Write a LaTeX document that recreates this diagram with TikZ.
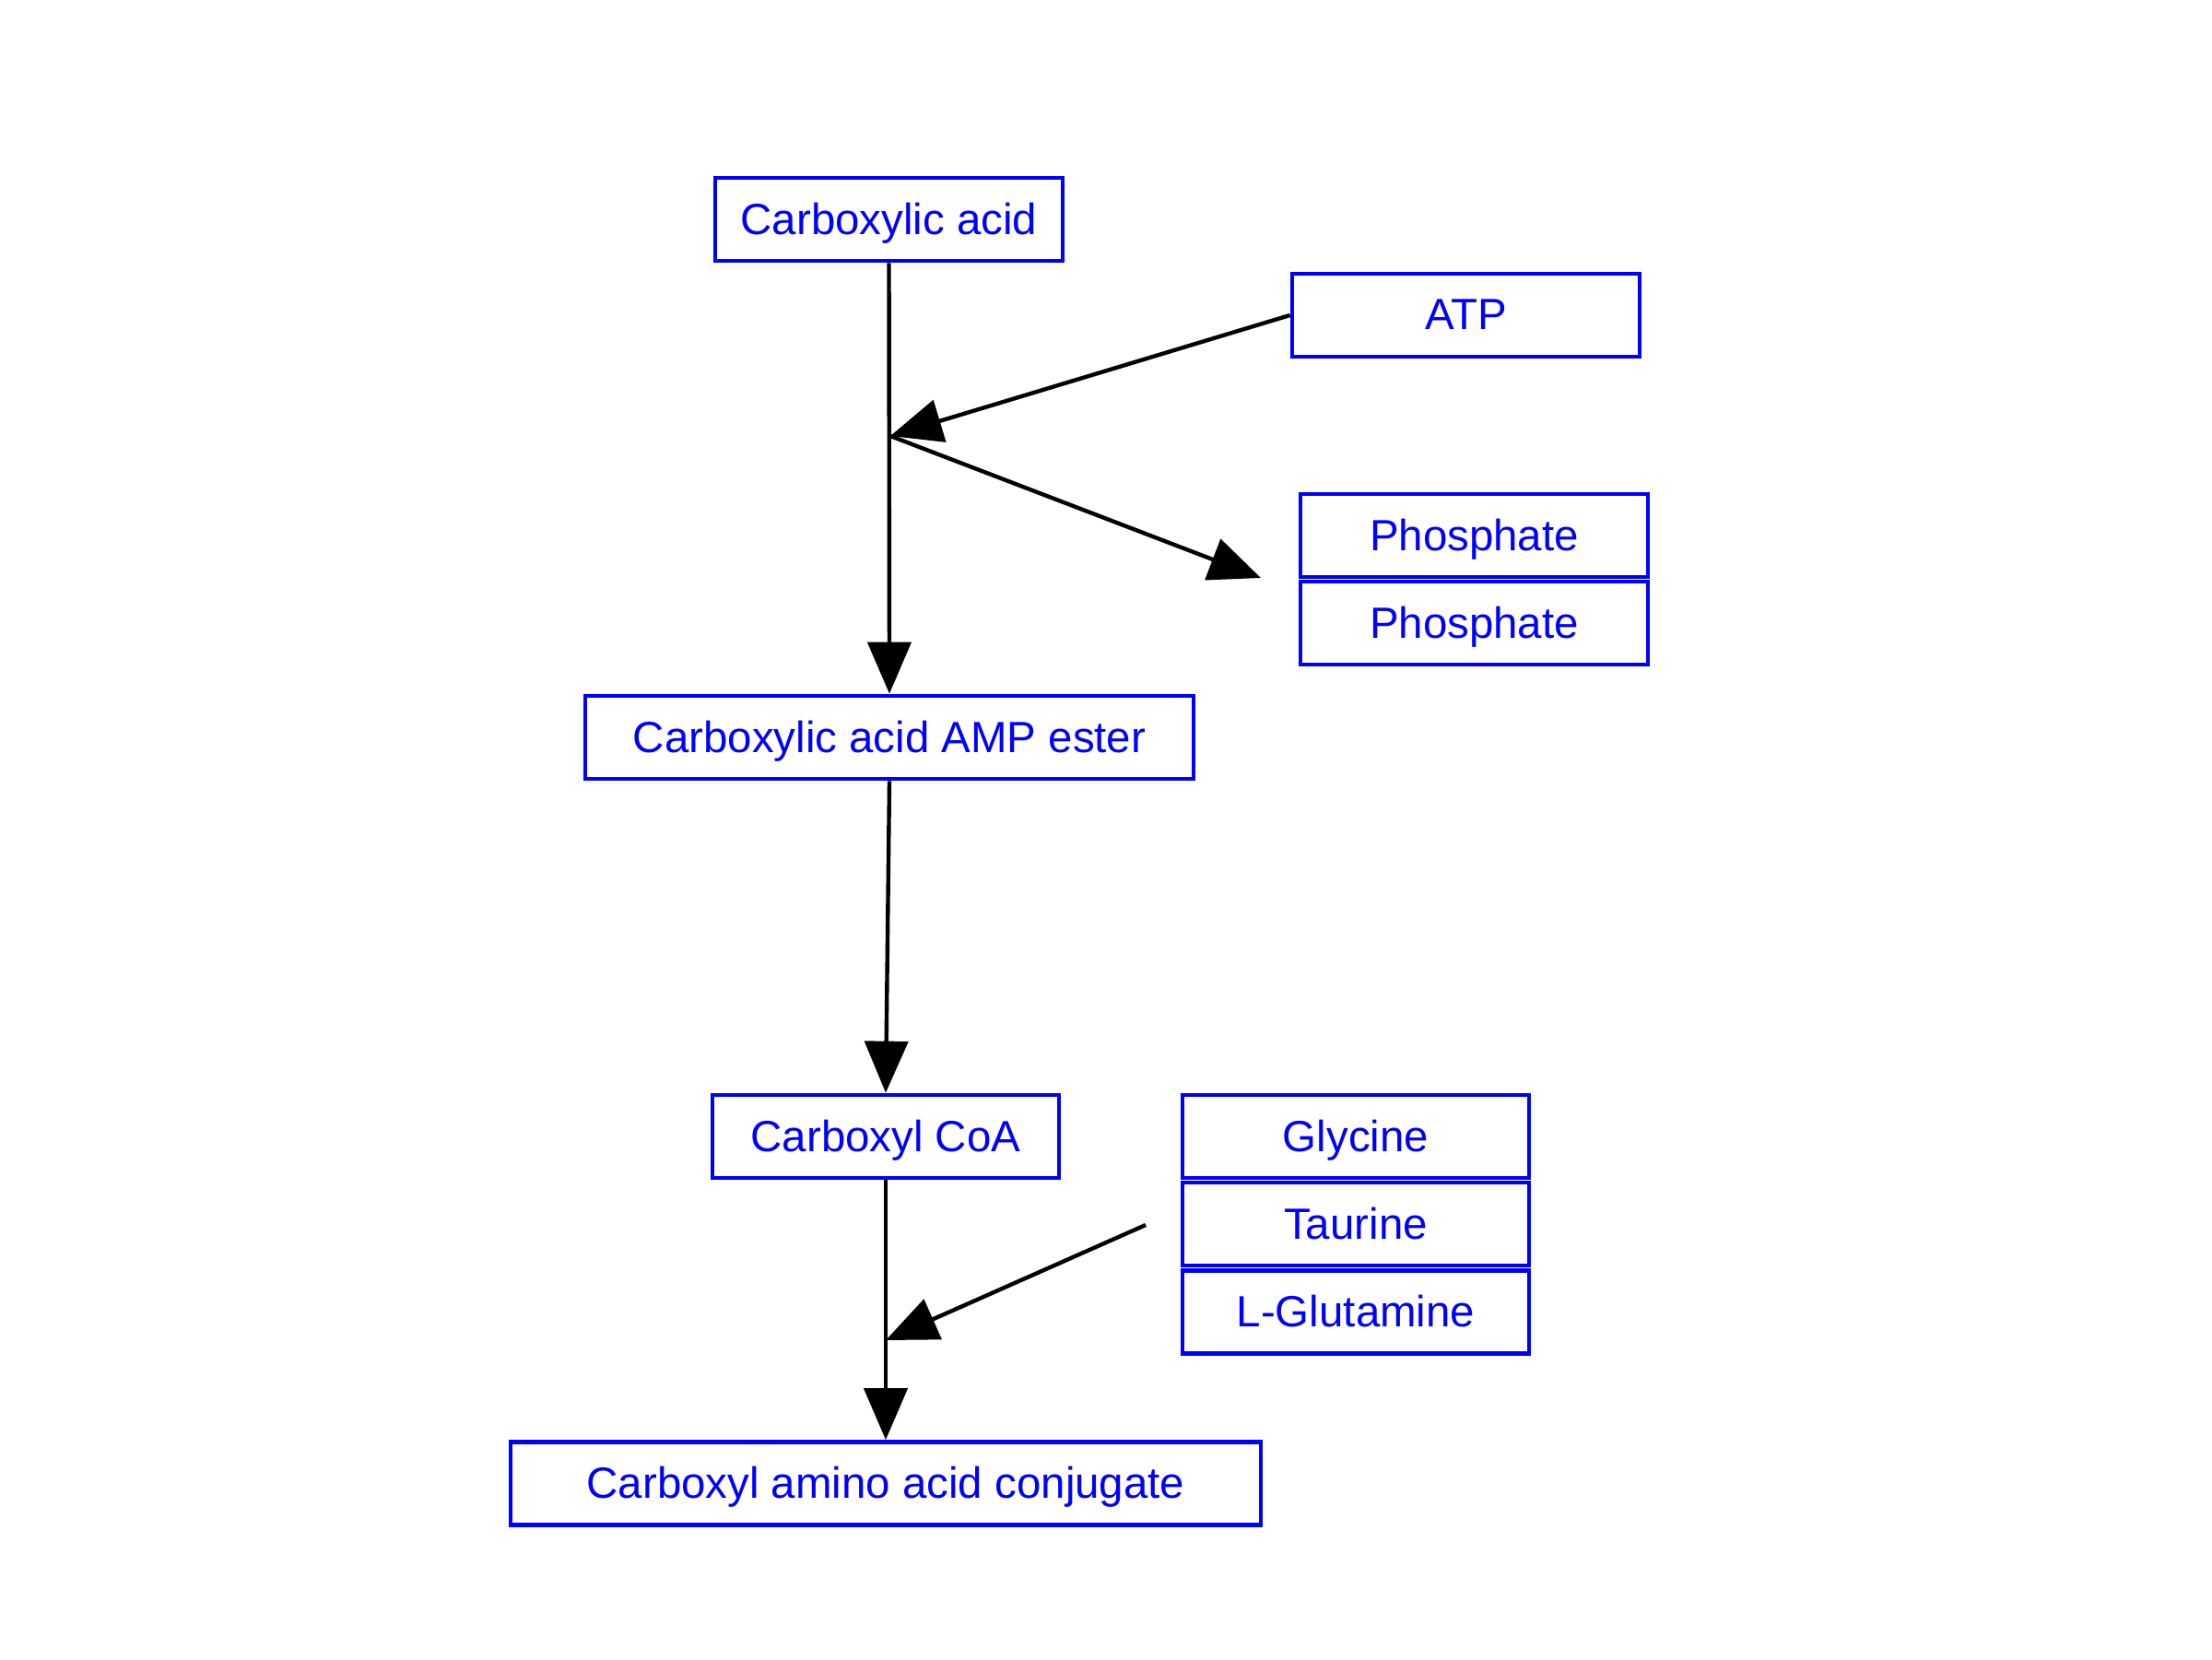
\documentclass[tikz,border=0pt]{standalone}
\usepackage{fontspec}
\setmainfont{Liberation Sans}
\usetikzlibrary{arrows.meta}
\definecolor{boxblue}{RGB}{0,0,255}
\begin{document}
\begin{tikzpicture}[
  x=1cm,y=1cm,
  box/.style={draw=boxblue, line width=1.35pt, text=boxblue, inner sep=0pt,
    minimum height=0.90cm, text depth=0.02cm, font=\fontsize{13.5}{16}\selectfont},
  conn/.style={line width=1.25pt, -{Triangle[length=0.56cm,width=0.47cm]}}
]
\useasboundingbox (0,0) rectangle (24,18);
\node[box, minimum width=3.77cm] (ca)   at (9.645,15.62) {Carboxylic acid};
\node[box, minimum width=3.77cm] (atp)  at (15.905,14.58) {ATP};
\node[box, minimum width=3.77cm] (ph1)  at (15.995,12.19) {Phosphate};
\node[box, minimum width=3.77cm] (ph2)  at (15.995,11.24) {Phosphate};
\node[box, minimum width=6.60cm] (amp)  at (9.65,10.00) {Carboxylic acid AMP ester};
\node[box, minimum width=3.76cm] (coa)  at (9.61,5.67) {Carboxyl CoA};
\node[box, minimum width=3.76cm] (gly)  at (14.71,5.67) {Glycine};
\node[box, minimum width=3.76cm] (tau)  at (14.71,4.72) {Taurine};
\node[box, minimum width=3.76cm] (glu)  at (14.71,3.765) {L-Glutamine};
\node[box, minimum width=8.14cm] (conj) at (9.61,1.905) {Carboxyl amino acid conjugate};

\coordinate (j1) at (9.66,13.27);
\coordinate (ptip) at (13.68,11.73);
\coordinate (j2) at (9.61,3.46);
\coordinate (tstart) at (12.43,4.71);

\draw[conn] (ca.south) -- (amp.north);
\draw[conn] (atp.west) -- (j1);
\draw[conn] (j1) -- (ptip);
\draw[conn] (amp.south) -- (coa.north);
\draw[conn] (coa.south) -- (conj.north);
\draw[conn] (tstart) -- (j2);
\end{tikzpicture}
\end{document}
